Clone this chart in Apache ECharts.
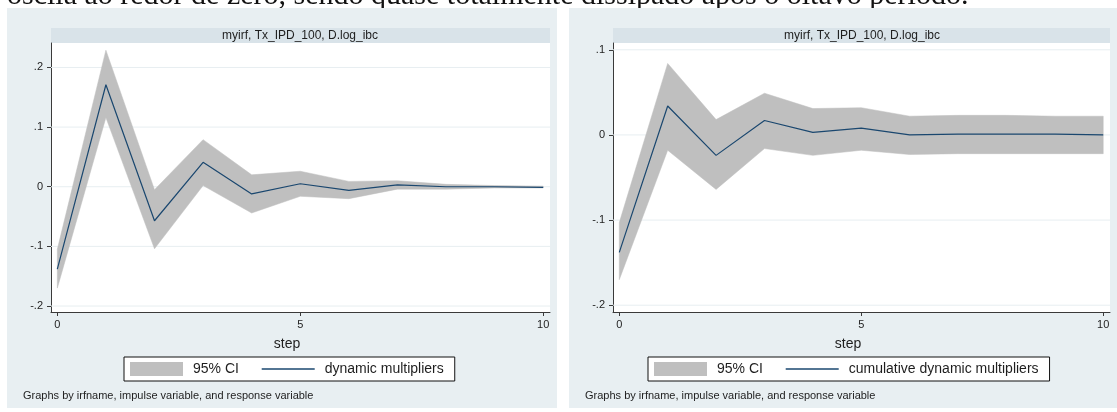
<!DOCTYPE html>
<html>
<head>
<meta charset="utf-8">
<script src="https://cdn.jsdelivr.net/npm/echarts@6/dist/echarts.min.js"></script>
<style>
  html, body { margin: 0; padding: 0; background: #ffffff; }
  #chart { width: 1117px; height: 412px; }
</style>
</head>
<body>
<div id="chart"></div>
<script>
// IRF steps and estimates (impulse Tx_IPD_100, response D.log_ibc)
const steps = [0, 1, 2, 3, 4, 5, 6, 7, 8, 9, 10];

const dynMult  = [-0.138, 0.171, -0.057, 0.041, -0.012, 0.005, -0.006, 0.003, 0.000, 0.000, -0.001];
const dynLower = [-0.170, 0.116, -0.104, 0.002, -0.044, -0.016, -0.020, -0.004, -0.004, -0.002, -0.002];
const dynUpper = [-0.105, 0.229, -0.005, 0.079, 0.020, 0.026, 0.009, 0.010, 0.004, 0.002, 0.001];

const cumMult  = [-0.138, 0.034, -0.024, 0.017, 0.003, 0.008, 0.000, 0.001, 0.001, 0.001, 0.000];
const cumLower = [-0.170, -0.018, -0.064, -0.016, -0.024, -0.018, -0.023, -0.022, -0.022, -0.022, -0.022];
const cumUpper = [-0.103, 0.084, 0.018, 0.049, 0.031, 0.032, 0.022, 0.023, 0.023, 0.022, 0.022];

const xTicks = [0, 5, 10];
const dynYTicks = [-0.2, -0.1, 0, 0.1, 0.2];
const cumYTicks = [-0.2, -0.1, 0, 0.1];

const panelTitle = 'myirf, Tx_IPD_100, D.log_ibc';
const xTitle = 'step';
const byNote = 'Graphs by irfname, impulse variable, and response variable';
const ciName = '95% CI';
const dynName = 'dynamic multipliers';
const cumName = 'cumulative dynamic multipliers';
const leadText = 'oscila ao redor de zero, sendo quase totalmente dissipado após o oitavo período.';

const FONT = '"Liberation Sans", Arial, sans-serif';
const LINE_COLOR = '#1a476f';
const BAND_COLOR = '#bfbfbf';
const PANEL_BG = '#e8eff2';
const STRIP_BG = '#d9e3e9';
const GRID_LINE = '#e7eef1';
const AXIS_COLOR = '#3a3a3a';
const TEXT_COLOR = '#1e1e1e';

const X_MIN = -0.13, X_MAX = 10.14;

// Stata-style tick labels: .2, -.1, 0
function stataFmt(v) {
  if (Math.abs(v) < 1e-9) return '0';
  return String(Math.round(v * 10) / 10).replace('0.', '.');
}

function xAxisFor(gridIndex) {
  return {
    type: 'value', gridIndex, min: X_MIN, max: X_MAX,
    axisLine: { show: true, onZero: false, lineStyle: { color: AXIS_COLOR, width: 1 } },
    axisTick: { show: true, customValues: xTicks, length: 4, lineStyle: { color: AXIS_COLOR } },
    axisLabel: { customValues: xTicks, fontSize: 11, color: TEXT_COLOR, margin: 7, fontFamily: FONT },
    splitLine: { show: false }
  };
}

function yAxisFor(gridIndex, min, max, ticks) {
  return {
    type: 'value', gridIndex, min, max,
    axisLine: { show: true, onZero: false, lineStyle: { color: AXIS_COLOR, width: 1 } },
    axisTick: { show: true, customValues: ticks, length: 4, lineStyle: { color: AXIS_COLOR } },
    axisLabel: { customValues: ticks, fontSize: 11, color: TEXT_COLOR, margin: 8, fontFamily: FONT, formatter: stataFmt },
    splitLine: { show: false }
  };
}

// Confidence band as one filled polygon through the axis scales
function bandSeries(axisIndex, lower, upper) {
  return {
    name: ciName, type: 'custom', xAxisIndex: axisIndex, yAxisIndex: axisIndex,
    z: 3, silent: true,
    itemStyle: { color: BAND_COLOR },
    data: steps.map((s, i) => [s, lower[i], upper[i]]),
    encode: { x: 0, y: [1, 2] },
    renderItem(params, api) {
      if (params.dataIndex !== 0) return null;
      const pts = [];
      for (let i = 0; i < steps.length; i++) pts.push(api.coord([steps[i], upper[i]]));
      for (let i = steps.length - 1; i >= 0; i--) pts.push(api.coord([steps[i], lower[i]]));
      return { type: 'polygon', shape: { points: pts }, style: { fill: BAND_COLOR, stroke: BAND_COLOR, lineWidth: 0.5 } };
    }
  };
}

function lineSeries(axisIndex, name, values) {
  return {
    name, type: 'line', xAxisIndex: axisIndex, yAxisIndex: axisIndex,
    z: 5, symbol: 'none', silent: true, animation: false,
    lineStyle: { color: LINE_COLOR, width: 1.2 },
    itemStyle: { color: LINE_COLOR },
    data: steps.map((s, i) => [s, values[i]])
  };
}

function gridLineSeries(axisIndex, ticks) {
  return ticks.map(t => ({
    type: 'line', xAxisIndex: axisIndex, yAxisIndex: axisIndex,
    z: 2, symbol: 'none', silent: true, animation: false,
    lineStyle: { color: GRID_LINE, width: 1 },
    data: [[X_MIN, t], [X_MAX, t]]
  }));
}

function legendFor(left, lineName) {
  return {
    left, top: 357, orient: 'horizontal', selectedMode: false,
    backgroundColor: '#ffffff', borderColor: '#111111', borderWidth: 1,
    padding: [5, 11, 5, 6], itemGap: 22, itemWidth: 53, itemHeight: 14,
    textStyle: { fontSize: 14, color: TEXT_COLOR, fontFamily: FONT, padding: [0, 0, 0, 5] },
    data: [
      { name: ciName, icon: 'rect' },
      // plain line key: keep the stroke, hide the marker
      { name: lineName, itemStyle: { opacity: 0 }, lineStyle: { color: LINE_COLOR, width: 1.6, opacity: 1 } }
    ]
  };
}

function text(x, y, str, size, align, extra) {
  return Object.assign({
    type: 'text', x, y, z: 10,
    style: { text: str, fill: TEXT_COLOR, font: size + 'px ' + FONT, align: align, verticalAlign: 'middle' }
  }, extra || {});
}

const chart = echarts.init(document.getElementById('chart'), null, { renderer: 'canvas' });

chart.setOption({
  animation: false,
  backgroundColor: '#ffffff',
  textStyle: { fontFamily: FONT },
  graphic: { elements: [
    { type: 'text', x: 7, y: -4, z: -20,
      style: { text: leadText, fill: '#111111', font: '30px "Liberation Serif", "Times New Roman", serif', align: 'left', verticalAlign: 'middle' } },
    { type: 'rect', z: -10, shape: { x: 7, y: 8, width: 550, height: 400 }, style: { fill: PANEL_BG } },
    { type: 'rect', z: -10, shape: { x: 569, y: 8, width: 548, height: 400 }, style: { fill: PANEL_BG } },
    { type: 'rect', z: -9, shape: { x: 51, y: 28, width: 499, height: 15 }, style: { fill: STRIP_BG } },
    { type: 'rect', z: -9, shape: { x: 613, y: 28, width: 497, height: 15 }, style: { fill: STRIP_BG } },
    text(300, 36, panelTitle, 12, 'center'),
    text(862, 36, panelTitle, 12, 'center'),
    text(287, 344, xTitle, 14, 'center'),
    text(848, 344, xTitle, 14, 'center'),
    text(23, 396, byNote, 11, 'left'),
    text(585, 396, byNote, 11, 'left')
  ] },
  grid: [
    { left: 51, right: 567, top: 43, bottom: 100, show: true, backgroundColor: '#ffffff', borderWidth: 0 },
    { left: 613, right: 7, top: 43, bottom: 100, show: true, backgroundColor: '#ffffff', borderWidth: 0 }
  ],
  xAxis: [xAxisFor(0), xAxisFor(1)],
  yAxis: [yAxisFor(0, -0.21, 0.241, dynYTicks), yAxisFor(1, -0.208, 0.108, cumYTicks)],
  legend: [legendFor(124, dynName), legendFor(648, cumName)],
  series: [
    ...gridLineSeries(0, dynYTicks),
    ...gridLineSeries(1, cumYTicks),
    bandSeries(0, dynLower, dynUpper),
    lineSeries(0, dynName, dynMult),
    bandSeries(1, cumLower, cumUpper),
    lineSeries(1, cumName, cumMult)
  ]
});
</script>
</body>
</html>
